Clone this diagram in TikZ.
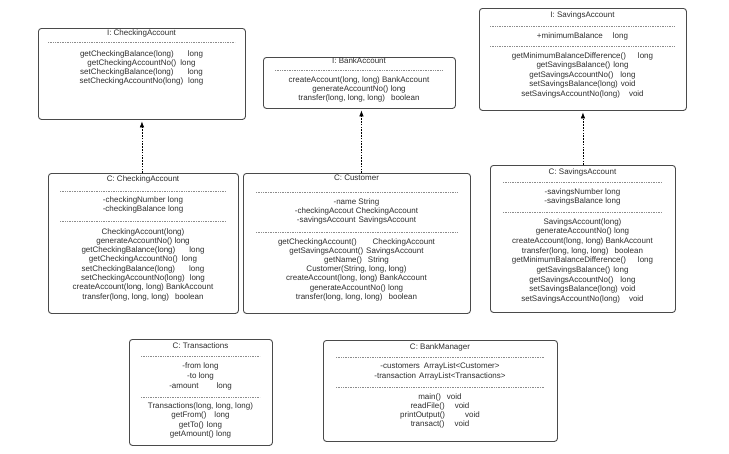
\documentclass[tikz,border=0pt]{standalone}
\usepackage{fontspec}
\setmainfont{Liberation Sans}
\usetikzlibrary{arrows.meta}
\definecolor{boxc}{HTML}{4A4A4A}
\definecolor{sepc}{HTML}{8C8C8C}
\definecolor{txtc}{HTML}{2E2E2E}
\begin{document}
\begin{tikzpicture}[x=1pt,y=-1pt,
  umlbox/.style={draw=boxc, line width=0.9pt, rounded corners=3pt, anchor=north west, inner sep=0pt},
  sepline/.style={draw=sepc, line width=0.4pt, dash pattern=on 1pt off 0.7pt},
  txt/.style={font=\fontsize{8}{9}\selectfont, text=txtc, inner sep=0pt},
  dep/.style={draw=black, line width=0.6pt, dash pattern=on 1.6pt off 1.2pt, -{Latex[length=6pt,width=4.5pt]}, shorten >=1.5pt}]
\useasboundingbox[fill=white] (0,0) rectangle (729,453);

% ---------- boxes ----------
\node[umlbox, minimum width=207pt, minimum height=91pt]  (b1) at (38,28) {};
\node[umlbox, minimum width=192pt, minimum height=51pt]  (b2) at (263,57) {};
\node[umlbox, minimum width=207pt, minimum height=102pt] (b3) at (479,8) {};
\node[umlbox, minimum width=190pt, minimum height=140pt] (b4) at (48,173) {};
\node[umlbox, minimum width=227pt, minimum height=140pt] (b5) at (243,173) {};
\node[umlbox, minimum width=185pt, minimum height=147pt] (b6) at (490,165) {};
\node[umlbox, minimum width=143pt, minimum height=106pt] (b7) at (129,339) {};
\node[umlbox, minimum width=234pt, minimum height=101pt] (b8) at (323,340) {};

% ---------- separators ----------
\draw[sepline] (48,42) -- (235,42);
\draw[sepline] (275,70) -- (443,70);
\draw[sepline] (490,26) -- (675,26);
\draw[sepline] (490,46) -- (675,46);
\draw[sepline] (60,191) -- (226,191);
\draw[sepline] (60,221) -- (226,221);
\draw[sepline] (256,192) -- (457,192);
\draw[sepline] (256,232) -- (457,232);
\draw[sepline] (503,182) -- (662,182);
\draw[sepline] (503,212) -- (662,212);
\draw[sepline] (141,356) -- (260,356);
\draw[sepline] (141,397) -- (260,397);
\draw[sepline] (336,357) -- (544,357);
\draw[sepline] (336,387) -- (544,387);

% ---------- I: CheckingAccount ----------
\node[txt] (b1t) at (141.5,33) {I: CheckingAccount};
\foreach \t [count=\i from 0] in {
  {getCheckingBalance(long)\hspace{14pt}long},
  {getCheckingAccountNo()\hspace{4pt}long},
  {setCheckingBalance(long)\hspace{14pt}long},
  {setCheckingAccountNo(long)\hspace{5pt}long}}
  \node[txt] (b1m\i) at (141.5,{54+9.3*\i}) {\t};

% ---------- I: BankAccount ----------
\node[txt] (b2t) at (359,61) {I: BankAccount};
\foreach \t [count=\i from 0] in {
  {createAccount(long, long) BankAccount},
  {generateAccountNo() long},
  {transfer(long, long, long)\hspace{6pt}boolean}}
  \node[txt] (b2m\i) at (359,{80+9.2*\i}) {\t};

% ---------- I: SavingsAccount ----------
\node[txt] (b3t) at (582.5,15) {I: SavingsAccount};
\node[txt] (b3a0) at (582.5,36) {+minimumBalance\hspace{10pt}long};
\foreach \t [count=\i from 0] in {
  {getMinimumBalanceDifference()\hspace{12pt}long},
  {getSavingsBalance()\hspace{3pt}long},
  {getSavingsAccountNo()\hspace{7pt}long},
  {setSavingsBalance(long)\hspace{3pt}void},
  {setSavingsAccountNo(long)\hspace{9pt}void}}
  \node[txt] (b3m\i) at (582.5,{56+9.5*\i}) {\t};

% ---------- C: CheckingAccount ----------
\node[txt] (b4t) at (143,179) {C: CheckingAccount};
\foreach \t [count=\i from 0] in {
  {-checkingNumber long},
  {-checkingBalance long}}
  \node[txt] (b4a\i) at (143,{200+9.3*\i}) {\t};
\foreach \t [count=\i from 0] in {
  {CheckingAccount(long)},
  {generateAccountNo() long},
  {getCheckingBalance(long)\hspace{14pt}long},
  {getCheckingAccountNo()\hspace{4pt}long},
  {setCheckingBalance(long)\hspace{14pt}long},
  {setCheckingAccountNo(long)\hspace{5pt}long},
  {createAccount(long, long) BankAccount},
  {transfer(long, long, long)\hspace{6pt}boolean}}
  \node[txt] (b4m\i) at (143,{232+9.3*\i}) {\t};

% ---------- C: Customer ----------
\node[txt] (b5t) at (356.5,178) {C: Customer};
\foreach \t [count=\i from 0] in {
  {-name String},
  {-checkingAccout CheckingAccount},
  {-savingsAccount\hspace{3pt}SavingsAccount}}
  \node[txt] (b5a\i) at (356.5,{202+9.2*\i}) {\t};
\foreach \t [count=\i from 0] in {
  {getCheckingAccount()\hspace{16pt}CheckingAccount},
  {getSavingsAccount()\hspace{3pt}SavingsAccount},
  {getName()\hspace{6pt}String},
  {Customer(String, long, long)},
  {createAccount(long, long) BankAccount},
  {generateAccountNo() long},
  {transfer(long, long, long)\hspace{6pt}boolean}}
  \node[txt] (b5m\i) at (356.5,{242+9.2*\i}) {\t};

% ---------- C: SavingsAccount ----------
\node[txt] (b6t) at (582.5,172) {C: SavingsAccount};
\foreach \t [count=\i from 0] in {
  {-savingsNumber long},
  {-savingsBalance long}}
  \node[txt] (b6a\i) at (582.5,{192+9.8*\i}) {\t};
\foreach \t [count=\i from 0] in {
  {SavingsAccount(long)},
  {generateAccountNo() long},
  {createAccount(long, long) BankAccount},
  {transfer(long, long, long)\hspace{6pt}boolean},
  {getMinimumBalanceDifference()\hspace{12pt}long},
  {getSavingsBalance()\hspace{3pt}long},
  {getSavingsAccountNo()\hspace{7pt}long},
  {setSavingsBalance(long)\hspace{3pt}void},
  {setSavingsAccountNo(long)\hspace{9pt}void}}
  \node[txt] (b6m\i) at (582.5,{222+9.7*\i}) {\t};

% ---------- C: Transactions ----------
\node[txt] (b7t) at (200.5,346) {C: Transactions};
\foreach \t [count=\i from 0] in {
  {-from long},
  {-to long},
  {-amount\hspace{18pt}long}}
  \node[txt] (b7a\i) at (200.5,{366+10*\i}) {\t};
\foreach \t [count=\i from 0] in {
  {Transactions(long, long, long)},
  {getFrom()\hspace{8pt}long},
  {getTo()\hspace{3pt}long},
  {getAmount() long}}
  \node[txt] (b7m\i) at (200.5,{406+9.6*\i}) {\t};

% ---------- C: BankManager ----------
\node[txt] (b8t) at (440,347) {C: BankManager};
\foreach \t [count=\i from 0] in {
  {-customers\hspace{4pt}ArrayList<Customer>},
  {-transaction\hspace{3pt}ArrayList<Transactions>}}
  \node[txt] (b8a\i) at (440,{366+10.5*\i}) {\t};
\foreach \t [count=\i from 0] in {
  {main()\hspace{6pt}void},
  {readFile()\hspace{10pt}void},
  {printOutput()\hspace{20pt}void},
  {transact()\hspace{10pt}void}}
  \node[txt] (b8m\i) at (440,{397+9.3*\i}) {\t};

% ---------- realization arrows ----------
\draw[dep] (b1.south |- b4.north) -- (b1.south);
\draw[dep] ([xshift=2pt]b2.south |- b5.north) -- ([xshift=2pt]b2.south);
\draw[dep] (b3.south |- b6.north) -- (b3.south);
\end{tikzpicture}
\end{document}
